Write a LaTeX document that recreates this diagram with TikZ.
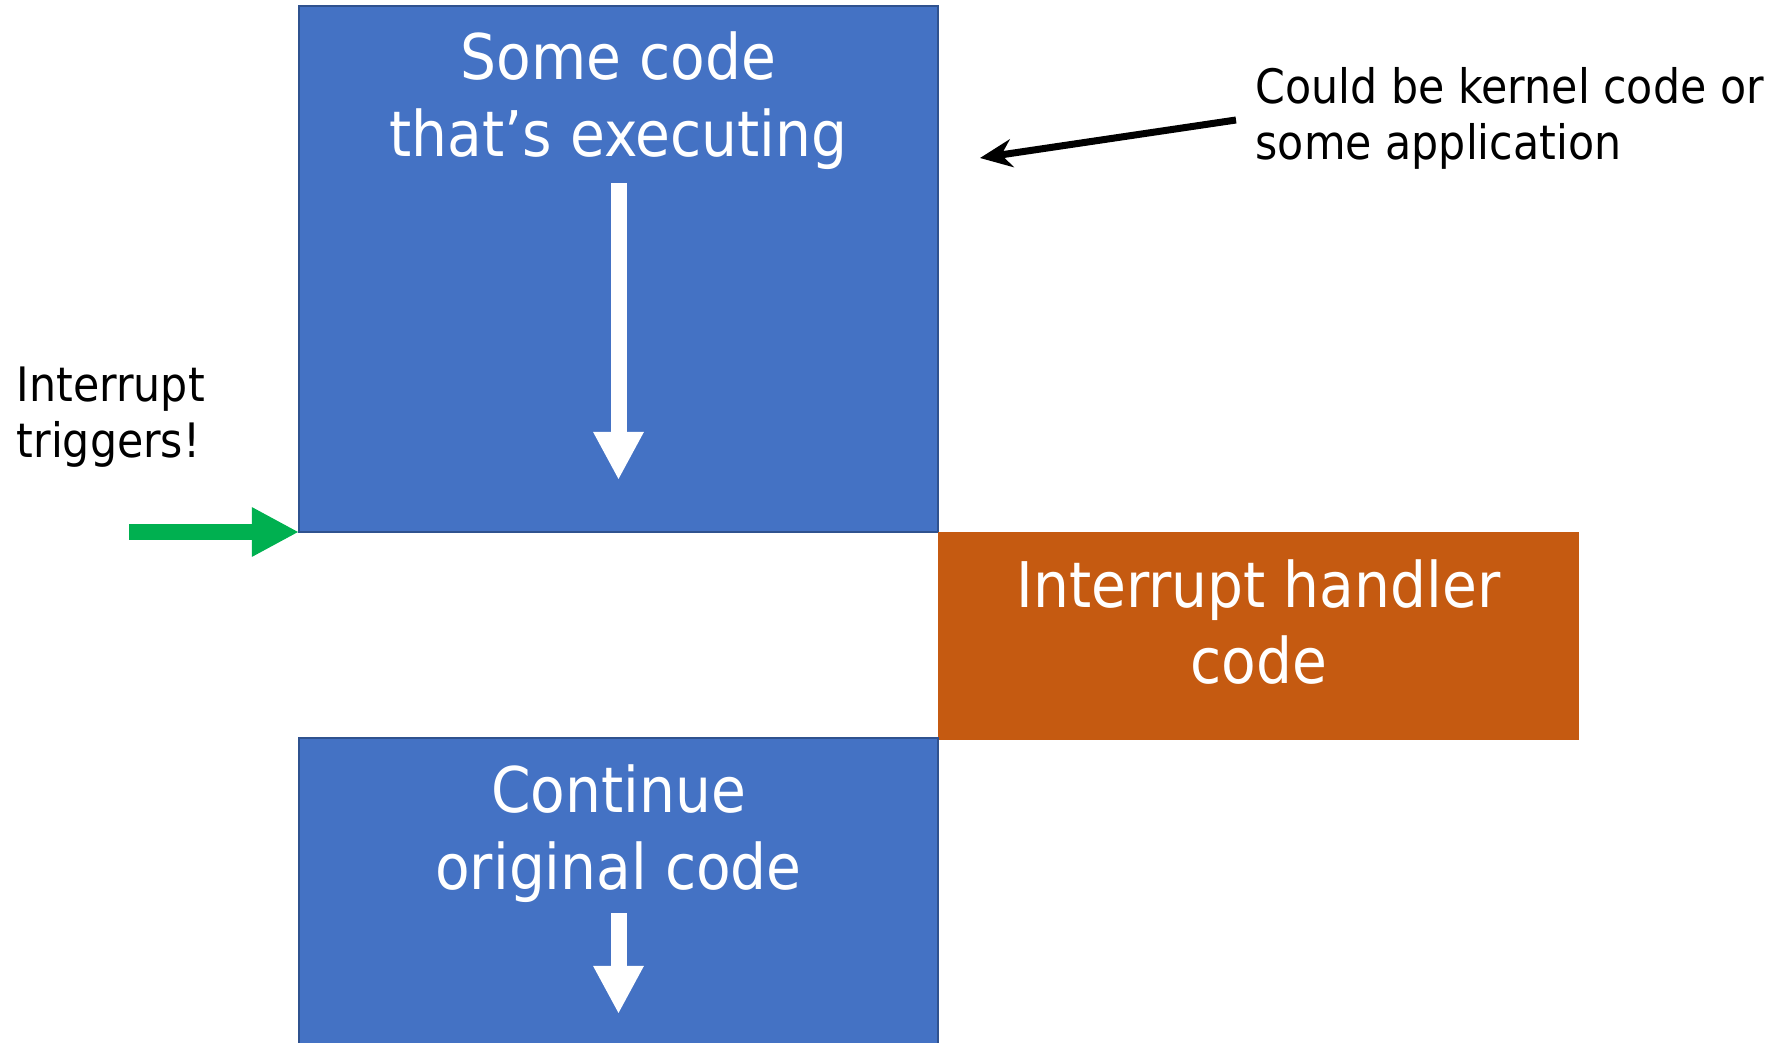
\documentclass[tikz,border=0pt]{standalone}
\usepackage{fontspec}
\setmainfont{DejaVu Sans}[FakeStretch=0.9]
\usetikzlibrary{arrows.meta}
\definecolor{boxblue}{HTML}{4472C4}
\definecolor{boxblueline}{HTML}{2F528F}
\definecolor{boxorange}{HTML}{C55A11}
\definecolor{trigreen}{HTML}{00B050}
\begin{document}
\begin{tikzpicture}[x=0.01cm,y=-0.01cm,
  bluebox/.style={draw=boxblueline,line width=0.025cm,fill=boxblue},
  orangebox/.style={fill=boxorange},
  bigtext/.style={text=white,font=\fontsize{17.9pt}{21pt}\selectfont,inner sep=0pt,anchor=base},
  smalltext/.style={text=black,font=\fontsize{13.5pt}{16pt}\selectfont,inner sep=0pt,anchor=base west},
  flowarrow/.style={white,line width=0.16cm,-{Triangle[width=0.47cm,length=0.48cm]}}
]
\useasboundingbox (0,0) rectangle (1772,1043);
% boxes
\path[bluebox] (299,6) rectangle (938,532);
\coordinate (topSW) at (299,532);
\path[orangebox] (938,532) rectangle (1579,740);
\path[bluebox] (299,738) rectangle (938,1050);
% texts in boxes
\node[bigtext] (t1) at (618.5,80) {Some code};
\node[bigtext] (t2) at (618.5,157) {that’s executing};
\node[bigtext] (h1) at (1258.5,607) {Interrupt handler};
\node[bigtext] (h2) at (1258.5,683) {code};
\node[bigtext] (c1) at (618.5,813) {Continue};
\node[bigtext] (c2) at (618.5,889) {original code};
% white flow arrows
\coordinate (a1s) at (618.5,183);
\coordinate (a1e) at (618.5,480);
\draw[flowarrow] (a1s) -- (a1e);
\coordinate (a2s) at (618.5,913);
\coordinate (a2e) at (618.5,1014);
\draw[flowarrow] (a2s) -- (a2e);
% side labels
\node[smalltext] (i1) at (16,402) {Interrupt};
\node[smalltext] (i2) at (16,458) {triggers!};
\node[smalltext] (k1) at (1255,104) {Could be kernel code or};
\node[smalltext] (k2) at (1255,160) {some application};
% green arrow
\coordinate (gs) at (129,532);
\draw[trigreen,line width=0.15cm,-{Triangle[width=0.46cm,length=0.47cm]}] (gs) -- (topSW);
% black arrow
\coordinate (bs) at (1236,120);
\coordinate (be) at (980,158);
\draw[black,line width=0.07cm,-{Stealth[length=0.32cm,width=0.28cm]}] (bs) -- (be);
\end{tikzpicture}
\end{document}
